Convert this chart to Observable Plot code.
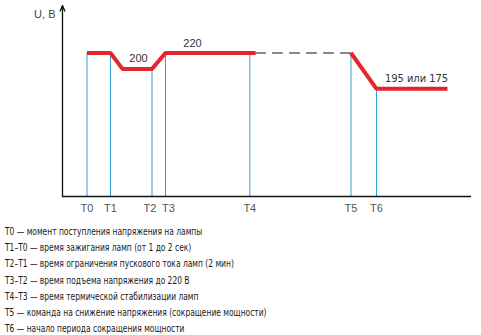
<!DOCTYPE html>
<html>
<head>
<meta charset="utf-8">
<script src="https://cdn.jsdelivr.net/npm/d3@7"></script>
<script src="https://cdn.jsdelivr.net/npm/@observablehq/plot@0.6"></script>
<style>
  html, body { margin: 0; padding: 0; background: #fff; }
  #chart svg { display: block; }
  #legend { font-family: "DejaVu Sans Condensed", sans-serif; font-size: 11px; color: #1a1a1a; margin: 2px 0 0 5px; line-height: 16.2px; white-space: nowrap; transform: scaleX(0.76); transform-origin: left top; }
</style>
</head>
<body>
<div id="chart"></div>
<div id="legend"></div>
<script>
// Moments (schematic time units) and their labels
const tickLabels = ["T0", "T1", "T2", "T3", "T4", "T5", "T6"];
const tickTimes  = [24.5, 48, 89.5, 103, 187.3, 288.5, 314];
const tickLevels = [220, 220, 200, 220, 220, 220, 175];

// Voltage profile (red segments), schematic
const seg1Times  = [24.5, 48, 60, 89.5, 103, 193];
const seg1Volts  = [220, 220, 200, 200, 220, 220];
const seg2Times  = [288.5, 314, 385];
const seg2Volts  = [220, 175, 175];
// Dashed continuation at 220 V
const dashTimes  = [193, 288.5];
const dashVolts  = [220, 220];

// Value annotations
const noteTexts  = ["200", "220", "195 или 175"];
const noteTimes  = [76, 130, 354];
const noteVolts  = [200, 220, 175];

const legendLines = [
  "T0 — момент поступления напряжения на лампы",
  "T1–T0 — время зажигания ламп (от 1 до 2 сек)",
  "T2–T1 — время ограничения пускового тока ламп (2 мин)",
  "T3–T2 — время подъема напряжения до 220 В",
  "T4–T3 — время термической стабилизации ламп",
  "T5 — команда на снижение напряжения (сокращение мощности)",
  "T6 — начало периода сокращения мощности"
];

const xDomain = [0, 409];
const yDomain = [39.6, 279.7];

const ticks = tickTimes.map((t, i) => ({t, v: tickLevels[i], label: tickLabels[i]}));
const profile = [
  ...seg1Times.map((t, i) => ({t, v: seg1Volts[i], s: 1})),
  ...seg2Times.map((t, i) => ({t, v: seg2Volts[i], s: 2}))
];
const dash = dashTimes.map((t, i) => ({t, v: dashVolts[i]}));
const notes = noteTexts.map((text, i) => ({text, t: noteTimes[i], v: noteVolts[i]}));

const tickText = (filter, dx) => Plot.text(ticks, {filter, x: "t", y: yDomain[0], text: "label", dy: 12, dx, fill: "#555", fontSize: 11});

const chart = Plot.plot({
  width: 481,
  height: 222,
  marginLeft: 62,
  marginRight: 10,
  marginTop: 5,
  marginBottom: 26,
  x: {domain: xDomain, axis: null},
  y: {domain: yDomain, axis: null},
  style: {fontFamily: "Liberation Sans, Arial, sans-serif", fontSize: "11px", background: "#fff"},
  marks: [
    Plot.ruleX(ticks, {x: "t", y1: yDomain[0], y2: "v", stroke: "#2f9fd0", strokeWidth: 1}),
    Plot.line(dash, {x: "t", y: "v", stroke: "#111", strokeWidth: 1, strokeDasharray: "10,7"}),
    Plot.line(profile, {x: "t", y: "v", z: "s", stroke: "#e3262d", strokeWidth: 4, strokeLinejoin: "miter", strokeLinecap: "butt"}),
    Plot.ruleY([yDomain[0]], {x1: xDomain[0], x2: xDomain[1], stroke: "#111", strokeWidth: 1.3}),
    Plot.arrow([{}], {x1: xDomain[0], x2: xDomain[0], y1: yDomain[0], y2: yDomain[1], stroke: "#111", strokeWidth: 1.3, headLength: 7, headAngle: 45}),
    tickText(d => d.label !== "T2" && d.label !== "T3", 0),
    tickText(d => d.label === "T2", -2),
    tickText(d => d.label === "T3", 3),
    Plot.text(["U, B"], {x: xDomain[0], y: yDomain[1], text: d => d, dx: -7, dy: 9, textAnchor: "end", fill: "#444", fontSize: 11}),
    Plot.text(notes.slice(0, 2), {x: "t", y: "v", text: "text", dy: -10, fill: "#333", fontSize: 11}),
    Plot.text(notes.slice(2), {x: "t", y: "v", text: "text", dy: -10, fill: "#333", fontSize: 11, fontFamily: "DejaVu Sans Condensed, sans-serif"})
  ]
});
document.getElementById("chart").appendChild(chart);

const legend = document.getElementById("legend");
legendLines.forEach(s => {
  const div = document.createElement("div");
  div.textContent = s;
  legend.appendChild(div);
});
</script>
</body>
</html>
